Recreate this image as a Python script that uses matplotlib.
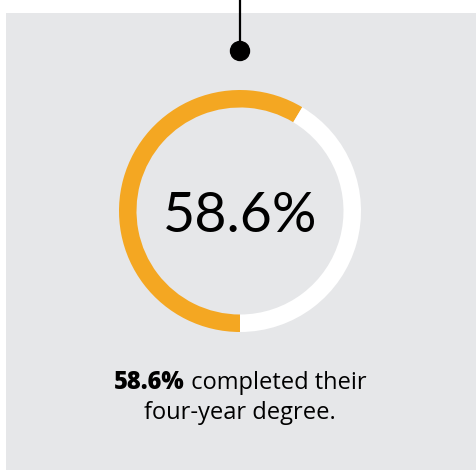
import matplotlib
matplotlib.use('Agg')
import matplotlib.pyplot as plt
from matplotlib.patches import Rectangle, Circle

# data
labels = ['Completed', 'Not completed']
values = [58.6, 41.4]
colors = ['#F4A722', '#FFFFFF']
headline = '58.6%'
caption_bold = '58.6%'
caption_rest = ' completed their'
caption_line2 = 'four-year degree.'

W, H = 476, 470
fig = plt.figure(figsize=(W / 100, H / 100), dpi=100)
fig.patch.set_facecolor('white')
ax = fig.add_axes([0, 0, 1, 1])

# grey panel
ax.add_patch(Rectangle((6, 0), W - 6, H - 13, facecolor='#E6E7E9', edgecolor='none', zorder=0))

# connector line + dot
ax.plot([240, 240], [H, H - 51], color='black', lw=1.6, zorder=2, solid_capstyle='butt')
ax.add_patch(Circle((240, H - 51), 9.5, color='black', zorder=3))

# donut
cx, cy = 240, H - 211
ax.pie(values, colors=colors, startangle=-90, counterclock=False,
       center=(cx, cy), radius=121, frame=True,
       wedgeprops=dict(width=17.5, edgecolor='none', zorder=1))
ax.set_xlim(0, W)
ax.set_ylim(0, H)
ax.set_aspect('auto')
ax.axis('off')

ax.text(cx, cy, headline, ha='center', va='center_baseline', fontsize=40,
        family='Lato', color='black', zorder=4)

# caption with mixed weight, centred by measuring the pieces
fig.canvas.draw()
r = fig.canvas.get_renderer()
y1 = H - 389
tb = ax.text(0, y1, caption_bold, ha='left', va='baseline', fontsize=17,
             family='Open Sans', fontweight='heavy', color='black')
tr = ax.text(0, y1, caption_rest, ha='left', va='baseline', fontsize=17,
             family='Open Sans', color='black')
wb = tb.get_window_extent(r).width
wr = tr.get_window_extent(r).width
x0 = 240 - (wb + wr) / 2
tb.set_x(x0)
tr.set_x(x0 + wb)
ax.text(240, H - 419, caption_line2, ha='center', va='baseline', fontsize=17,
        family='Open Sans', color='black')

fig.savefig('out.png', dpi=100)
